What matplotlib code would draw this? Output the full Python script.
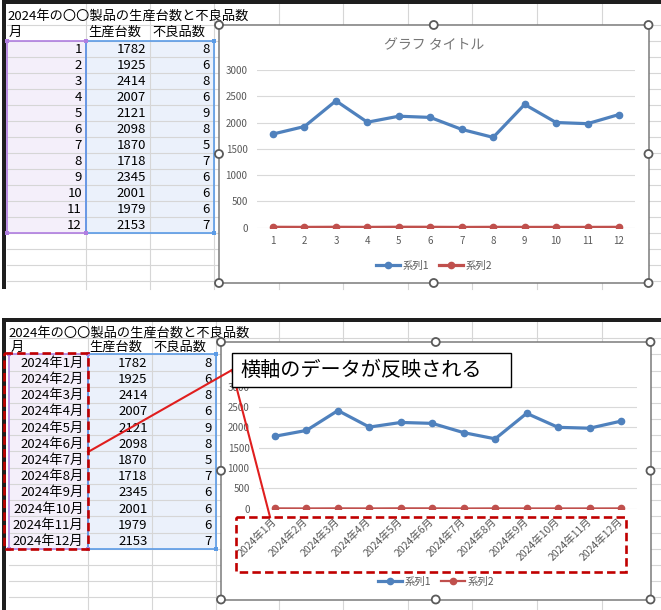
import matplotlib
matplotlib.use('Agg')
import matplotlib.pyplot as plt
from matplotlib.patches import Rectangle, Circle

plt.rcParams['font.family'] = ['Noto Sans CJK JP', 'DejaVu Sans']

# データ
sheet_title = "2024年の〇〇製品の生産台数と不良品数"
headers = ["月", "生産台数", "不良品数"]
months = [1, 2, 3, 4, 5, 6, 7, 8, 9, 10, 11, 12]
month_labels = ["2024年1月", "2024年2月", "2024年3月", "2024年4月", "2024年5月", "2024年6月",
                "2024年7月", "2024年8月", "2024年9月", "2024年10月", "2024年11月", "2024年12月"]
production = [1782, 1925, 2414, 2007, 2121, 2098, 1870, 1718, 2345, 2001, 1979, 2153]
defects = [8, 6, 8, 6, 9, 8, 5, 7, 6, 6, 6, 7]
y_ticks = [0, 500, 1000, 1500, 2000, 2500, 3000]
series_names = ["系列1", "系列2"]
chart_title = "グラフ タイトル"
note_text = "横軸のデータが反映される"

W, H = 661, 610
fig = plt.figure(figsize=(W / 100, H / 100), dpi=100)

bg = fig.add_axes([0, 0, 1, 1], zorder=0)
bg.set_xlim(0, W); bg.set_ylim(H, 0); bg.axis('off')
ov = fig.add_axes([0, 0, 1, 1], zorder=5)
ov.set_xlim(0, W); ov.set_ylim(H, 0); ov.axis('off'); ov.patch.set_alpha(0)

GRID = '#D6D6D6'
BLUE = '#4F81BD'
RED = '#C0504D'


def draw_sheet(top, bottom, title_y, header_y, data_top, step, dx, a_labels):
    cols = [7 + dx, 86 + dx, 150 + dx, 214 + dx, 278.5, 343, 408, 472, 537, 602]
    # 選択範囲の塗り
    n = len(months)
    sel_bot = data_top + step * n
    bg.add_patch(Rectangle((cols[0], data_top), cols[1] - cols[0], sel_bot - data_top,
                           fc='#F4EFFA', ec='none', zorder=1))
    bg.add_patch(Rectangle((cols[1], data_top), cols[3] - cols[1], sel_bot - data_top,
                           fc='#EBF1FB', ec='none', zorder=1))
    # 罫線
    y = data_top - step
    rows = [y]
    while y < bottom:
        y += step
        rows.append(y)
    for ry in rows:
        if ry < bottom:
            bg.plot([cols[0], W], [ry, ry], color=GRID, lw=0.8, zorder=2)
    for cx in cols[1:]:
        bg.plot([cx, cx], [top + 4, bottom], color=GRID, lw=0.8, zorder=2)
    # 見出しの黒帯と左端
    bg.add_patch(Rectangle((3, top), W - 3, 4, fc='#1E1E1E', ec='none', zorder=3))
    bg.add_patch(Rectangle((2, top), 4, bottom - top, fc='#1E1E1E', ec='none', zorder=3))
    # 選択枠
    bg.add_patch(Rectangle((cols[0], data_top), cols[1] - cols[0], sel_bot - data_top,
                           fill=False, ec='#B07EE0', lw=1.2, zorder=4))
    bg.add_patch(Rectangle((cols[1], data_top), cols[3] - cols[1], sel_bot - data_top,
                           fill=False, ec='#5B9BE6', lw=1.2, zorder=4))
    for hx, c in [(cols[0], '#B07EE0'), (cols[1], '#B07EE0'), (cols[3], '#5B9BE6')]:
        for hy in (data_top, sel_bot):
            bg.add_patch(Rectangle((hx - 2, hy - 2), 4, 4, fc=c, ec='none', zorder=4))
    # 文字
    bg.text(cols[0], title_y, sheet_title, fontsize=9.5, va='center', ha='left', zorder=5)
    for i, h in enumerate(headers):
        bg.text(cols[i] + 2, header_y, h, fontsize=9.5, va='center', ha='left', zorder=5)
    for i in range(n):
        cy = data_top + step * (i + 0.55)
        bg.text(cols[1] - 4, cy, str(a_labels[i]), fontsize=9.5, va='center', ha='right', zorder=5)
        bg.text(cols[2] - 4, cy, str(production[i]), fontsize=9.5, va='center', ha='right', zorder=5)
        bg.text(cols[3] - 4, cy, str(defects[i]), fontsize=9.5, va='center', ha='right', zorder=5)


def handle(ax, x, y):
    ax.add_patch(Circle((x, y), 4, fc='white', ec='#5A5A5A', lw=1.3, zorder=10))


def draw_chart(box, plot, labels, rotate, red_lw, title, legend_xy):
    x0, y0, x1, y1 = box
    bg.add_patch(Rectangle((x0, y0), x1 - x0, y1 - y0, fc='white', ec='none', zorder=6))
    ov.add_patch(Rectangle((x0, y0), x1 - x0, y1 - y0, fill=False, ec='#7A7A7A', lw=1.1, zorder=9))
    xm, ym = (x0 + x1) / 2, (y0 + y1) / 2
    for hx, hy in [(x0, y0), (xm, y0), (x1, y0), (x0, ym), (x1, ym), (x0, y1), (xm, y1), (x1, y1)]:
        handle(ov, hx, hy)

    px0, py0, px1, py1 = plot
    ax = fig.add_axes([px0 / W, 1 - py1 / H, (px1 - px0) / W, (py1 - py0) / H], zorder=2)
    ax.patch.set_alpha(0)
    ax.plot(months, production, color=BLUE, lw=2.3, marker='o', ms=4.5, label=series_names[0])
    ax.plot(months, defects, color=RED, lw=red_lw, marker='o', ms=4.5, label=series_names[1])
    ax.set_xlim(0.5, 12.5)
    ax.set_ylim(0, 3000)
    ax.set_yticks(y_ticks)
    ax.set_xticks(months)
    if rotate:
        ax.set_xticklabels(labels, rotation=45, ha='right', va='center',
                           rotation_mode='anchor', fontsize=7.5)
    else:
        ax.set_xticklabels(labels)
    ax.grid(axis='y', color='#D9D9D9', lw=0.8)
    ax.set_axisbelow(True)
    for s in ax.spines.values():
        s.set_visible(False)
    ax.tick_params(length=0, colors='#595959', labelsize=7)
    ax.tick_params(axis='y', pad=7)
    ax.tick_params(axis='x', pad=8 if rotate else 6)
    for lab in ax.get_xticklabels() + ax.get_yticklabels():
        lab.set_color('#595959')
    if rotate:
        for lab in ax.get_xticklabels():
            lab.set_fontsize(7.5)
    if title:
        fig.text(xm / W, 1 - 45 / H, title, fontsize=10, color='#767676', ha='center', va='center')
    ax.legend(loc='center', bbox_to_anchor=(legend_xy[0] / W, 1 - legend_xy[1] / H),
              bbox_transform=fig.transFigure, ncol=2, frameon=False, fontsize=7.5,
              handlelength=2.3, handletextpad=0.2, columnspacing=1.0, labelcolor='#595959')
    return ax


# 上段
draw_sheet(0, 289, 16.5, 32.5, 40.5, 16.0, 0, months)
draw_chart((219, 25, 648.5, 283), (257.3, 70, 634.7, 227.7), [str(m) for m in months],
           False, 2.3, chart_title, (434, 266))

# 下段
draw_sheet(318, 610, 333, 347, 354.3, 16.2, 1.5, month_labels)
draw_chart((221, 342, 650.5, 599.5), (259.3, 386.7, 636.7, 508.7), month_labels,
           True, 1.6, None, (436, 582))

# 注釈
LINE_RED = '#E01E1E'
DASH_RED = '#C00000'
ov.plot([88, 232], [452, 370], color=LINE_RED, lw=1.5, zorder=11)
ov.plot([232, 270], [370, 517], color=LINE_RED, lw=1.5, zorder=11)
ov.add_patch(Rectangle((4, 353), 84, 196, fill=False, ec=DASH_RED, lw=1.9,
                       linestyle=(0, (3.2, 1.6)), zorder=12))
ov.add_patch(Rectangle((236, 517), 390, 55, fill=False, ec=DASH_RED, lw=1.9,
                       linestyle=(0, (3.2, 1.6)), zorder=12))
ov.add_patch(Rectangle((232, 353), 279, 34, fc='white', ec='black', lw=1.0, zorder=13))
ov.text(240, 370, note_text, fontsize=14.5, va='center', ha='left', zorder=14)

fig.savefig('out.png', dpi=100)
